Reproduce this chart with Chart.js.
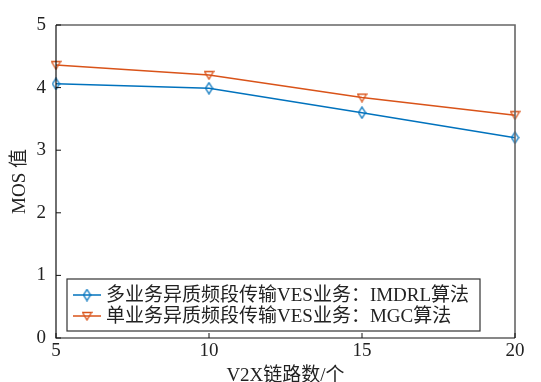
<!DOCTYPE html>
<html>
<head>
<meta charset="utf-8">
<script src="https://cdn.jsdelivr.net/npm/chart.js@4"></script>
<style>
  html, body { margin: 0; padding: 0; background: #fff; }
</style>
</head>
<body>
<canvas id="chart" width="541" height="382"></canvas>
<script>
// data
const linkCounts = [5, 10, 15, 20];
const imdrlMos = [4.06, 3.99, 3.60, 3.20];
const mgcMos = [4.36, 4.20, 3.84, 3.56];
const seriesNames = ['多业务异质频段传输VES业务：IMDRL算法', '单业务异质频段传输VES业务：MGC算法'];
const xTicks = [5, 10, 15, 20];
const yTicks = [0, 1, 2, 3, 4, 5];

const BLUE = '#0072BD';
const RED = '#D95319';
const TEXT = '#222';
const FONT = "'Liberation Serif', 'Noto Sans CJK SC', serif";
const FS = 19;

// hollow markers like matlab's 'd' and 'v'
const makeMarker = (kind, color) => {
    const c = document.createElement('canvas');
    const w = kind === 'diamond' ? 9 : 11;
    const h = kind === 'diamond' ? 13 : 10;
    c.width = w; c.height = h;
    const g = c.getContext('2d');
    g.strokeStyle = color;
    g.lineWidth = 1.3;
    g.beginPath();
    if (kind === 'diamond') {
        g.moveTo(w / 2, 1); g.lineTo(w - 1, h / 2); g.lineTo(w / 2, h - 1); g.lineTo(1, h / 2);
    } else {
        g.moveTo(1, 1.5); g.lineTo(w - 1, 1.5); g.lineTo(w / 2, h - 1);
    }
    g.closePath();
    g.stroke();
    return c;
};
const diamond = makeMarker('diamond', BLUE);
const triDown = makeMarker('tri', RED);

const frameAndLegend = {
    id: 'frameAndLegend',
    afterDraw(chart) {
        const { ctx, chartArea: a, scales } = chart;
        ctx.save();
        // box
        ctx.strokeStyle = '#666';
        ctx.lineWidth = 1.6;
        ctx.beginPath();
        ctx.moveTo(a.left, a.top); ctx.lineTo(a.right, a.top); ctx.lineTo(a.right, a.bottom);
        ctx.stroke();
        ctx.strokeStyle = '#111';
        ctx.lineWidth = 1.2;
        ctx.beginPath();
        ctx.moveTo(a.left, a.top); ctx.lineTo(a.left, a.bottom); ctx.lineTo(a.right, a.bottom);
        ctx.stroke();
        // inward ticks
        ctx.lineWidth = 1;
        ctx.beginPath();
        xTicks.forEach(v => {
            const x = scales.x.getPixelForValue(v);
            ctx.moveTo(x, a.bottom); ctx.lineTo(x, a.bottom - 5);
        });
        yTicks.forEach(v => {
            const y = scales.y.getPixelForValue(v);
            ctx.moveTo(a.left, y); ctx.lineTo(a.left + 5, y);
        });
        ctx.stroke();

        // legend box in the lower left of the plot
        const bx = a.left + 11, by = a.bottom - 59, bw = 413, bh = 52;
        ctx.fillStyle = '#fff';
        ctx.fillRect(bx, by, bw, bh);
        ctx.strokeStyle = '#333';
        ctx.lineWidth = 1.2;
        ctx.strokeRect(bx, by, bw, bh);
        const rows = [
            { name: seriesNames[0], color: BLUE, img: diamond },
            { name: seriesNames[1], color: RED, img: triDown },
        ];
        ctx.font = FS + 'px ' + FONT;
        ctx.textBaseline = 'middle';
        rows.forEach((r, i) => {
            const cy = by + 16 + i * 21;
            ctx.strokeStyle = r.color;
            ctx.lineWidth = 1.5;
            ctx.beginPath();
            ctx.moveTo(bx + 6, cy); ctx.lineTo(bx + 34, cy);
            ctx.stroke();
            ctx.drawImage(r.img, bx + 20 - r.img.width / 2, cy - r.img.height / 2);
            ctx.fillStyle = TEXT;
            ctx.fillText(r.name, bx + 39, cy + 1);
        });
        ctx.restore();
    }
};

const mkSet = (label, values, color, img) => ({
    label,
    data: linkCounts.map((x, i) => ({ x, y: values[i] })),
    borderColor: color,
    borderWidth: 1.5,
    pointStyle: img,
    pointRadius: 5,
    fill: false,
    tension: 0,
    clip: false,
});

new Chart(document.getElementById('chart'), {
    type: 'line',
    data: {
        datasets: [
            mkSet(seriesNames[0], imdrlMos, BLUE, diamond),
            mkSet(seriesNames[1], mgcMos, RED, triDown),
        ],
    },
    options: {
        responsive: false,
        devicePixelRatio: 1,
        animation: false,
        layout: { padding: { left: 0, right: 26, top: 25, bottom: 0 } },
        plugins: {
            legend: { display: false },
            tooltip: { enabled: false },
        },
        scales: {
            x: {
                type: 'linear',
                min: 5,
                max: 20,
                afterBuildTicks: (s) => { s.ticks = xTicks.map(v => ({ value: v })); },
                grid: { display: false, drawTicks: false },
                border: { display: false },
                ticks: { color: TEXT, font: { family: FONT, size: FS }, padding: 2, maxRotation: 0 },
                title: { display: true, text: 'V2X链路数/个', color: TEXT, font: { family: FONT, size: FS }, padding: { top: 0, bottom: -5 } },
                afterFit: (s) => { s.height = 44; },
            },
            y: {
                min: 0,
                max: 5,
                afterBuildTicks: (s) => { s.ticks = yTicks.map(v => ({ value: v })); },
                grid: { display: false, drawTicks: false },
                border: { display: false },
                ticks: { color: TEXT, font: { family: FONT, size: FS }, padding: 10 },
                title: { display: true, text: 'MOS 值', color: TEXT, font: { family: FONT, size: FS }, padding: { top: 9, bottom: 0 } },
                afterFit: (s) => { s.width = 56; },
            },
        },
    },
    plugins: [frameAndLegend],
});
</script>
</body>
</html>
